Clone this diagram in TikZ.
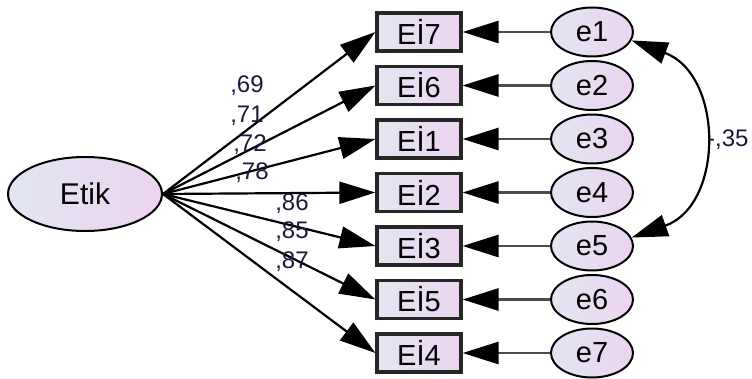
\documentclass[tikz,border=0pt]{standalone}
\usepackage{fontspec}
\setmainfont{Liberation Sans}
\usetikzlibrary{arrows.meta,shapes.geometric}
\definecolor{fillL}{RGB}{226,230,242}
\definecolor{fillR}{RGB}{236,212,240}
\definecolor{lbl}{RGB}{25,25,60}
\begin{document}
\begin{tikzpicture}[x=1pt,y=-1pt,
  obs/.style={rectangle, draw=black!85, line width=3.2pt, left color=fillL, right color=fillR,
    minimum width=84pt, minimum height=38pt, inner sep=0pt, font=\fontsize{29}{30}\selectfont},
  err/.style={ellipse, draw=black, line width=2pt, left color=fillL, right color=fillR,
    minimum width=82pt, minimum height=49pt, inner sep=0pt, font=\fontsize{29}{30}\selectfont},
  lat/.style={ellipse, draw=black, line width=2pt, left color=fillL, right color=fillR,
    minimum width=154pt, minimum height=74pt, inner sep=0pt, font=\fontsize{30}{30}\selectfont},
  path/.style={draw=black, line width=2.2pt, -{Triangle[length=36pt,width=22pt,black]}},
  epath/.style={draw=black!70, line width=2.8pt, -{Triangle[length=36pt,width=22pt,black]}},
  cov/.style={draw=black, line width=2.2pt, {Triangle[length=36pt,width=22pt]}-{Triangle[length=36pt,width=22pt]}},
  lab/.style={text=lbl, font=\fontsize{24}{26}\selectfont, inner sep=0pt}
]
\useasboundingbox (0,0) rectangle (752,379);
% latent
\node[lat] (etik) at (85,194) {Etik};
% observed
\node[obs] (b7) at (419,32) {Eİ7};
\node[obs] (b6) at (419,85.5) {Eİ6};
\node[obs] (b1) at (419,139) {Eİ1};
\node[obs] (b2) at (419,192.5) {Eİ2};
\node[obs] (b3) at (419,246) {Eİ3};
\node[obs] (b5) at (419,299.5) {Eİ5};
\node[obs] (b4) at (419,353) {Eİ4};
% errors
\node[err] (e1) at (592,32) {e1};
\node[err] (e2) at (592,85.5) {e2};
\node[err] (e3) at (592,139) {e3};
\node[err] (e4) at (592,192.5) {e4};
\node[err] (e5) at (592,246) {e5};
\node[err] (e6) at (592,299.5) {e6};
\node[err] (e7) at (592,353) {e7};
% paths
\foreach \b in {b7,b6,b1,b2,b3,b5,b4}{\draw[path] (etik.east) -- (\b.west);}
\draw[epath] (e1) -- (b7);
\draw[epath] (e2) -- (b6);
\draw[epath] (e3) -- (b1);
\draw[epath] (e4) -- (b2);
\draw[epath] (e5) -- (b3);
\draw[epath] (e6) -- (b5);
\draw[epath] (e7) -- (b4);
% covariance
\draw[cov] (e1.-12) .. controls (724,75) and (724,205) .. (e5.12);
\node[lab, anchor=west] (c15) at (707,140) {-,35};
% loadings
\node[lab] (l7) at (247,86) {,69};
\node[lab] (l6) at (247,116) {,71};
\node[lab] (l1) at (250,145) {,72};
\node[lab] (l2) at (252,173) {,78};
\node[lab] (l3) at (292,204) {,86};
\node[lab] (l5) at (292,232) {,85};
\node[lab] (l4) at (292,262) {,87};
\end{tikzpicture}
\end{document}
